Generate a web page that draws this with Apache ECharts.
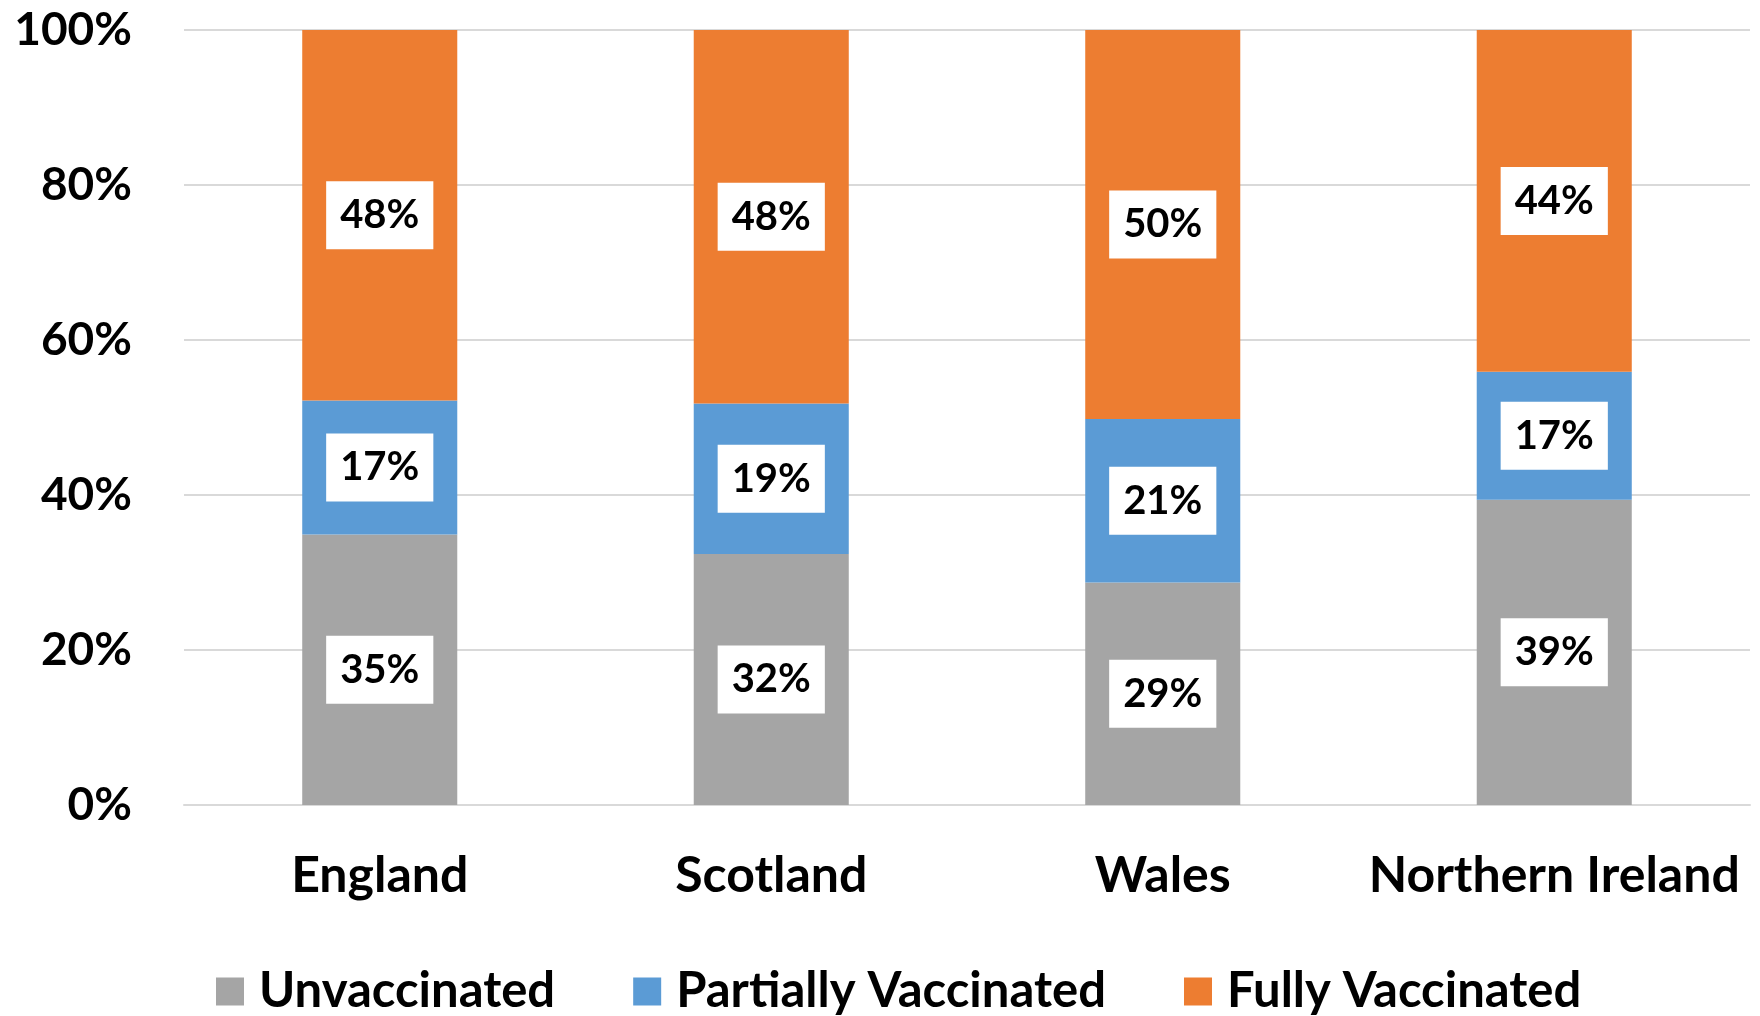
<!DOCTYPE html>
<html>
<head>
<meta charset="utf-8">
<script src="https://cdn.jsdelivr.net/npm/echarts@6/dist/echarts.min.js"></script>
<style>
  html, body { margin: 0; padding: 0; background: #fff; }
  #chart { width: 1760px; height: 1016px; }
</style>
</head>
<body>
<div id="chart"></div>
<script>
// data (percent of each nation)
var nations = ['England', 'Scotland', 'Wales', 'Northern Ireland'];
var unvaccinated = [34.9, 32.4, 28.7, 39.4];
var partiallyVaccinated = [17.3, 19.4, 21.1, 16.5];
var fullyVaccinated = [47.8, 48.2, 50.2, 44.1];
var yTicks = [0, 20, 40, 60, 80, 100];

var FONT = 'Lato';

var chart = echarts.init(document.getElementById('chart'), null, { renderer: 'canvas' });

// white boxed label in the middle of each segment
function segLabel() {
  return {
    show: true,
    position: 'inside',
    formatter: function (p) { return Math.round(p.value) + '%'; },
    color: '#000',
    fontFamily: FONT,
    fontWeight: 'bold',
    fontSize: 40,
    backgroundColor: '#fff',
    padding: [15, 14, 13, 14]
  };
}

function makeSeries(name, data, color) {
  return {
    name: name,
    type: 'bar',
    stack: 'total',
    barWidth: '39.6%',
    data: data,
    itemStyle: { color: color },
    label: segLabel(),
    emphasis: { disabled: true }
  };
}

var option = {
  animation: false,
  backgroundColor: '#fff',
  grid: {
    left: 184,
    right: 10,
    top: 30,
    bottom: 211,
    containLabel: false
  },
  legend: {
    left: 211,
    top: 962,
    icon: 'rect',
    itemWidth: 28,
    itemHeight: 28,
    itemGap: 78,
    textStyle: {
      fontFamily: FONT,
      fontWeight: 'bold',
      fontSize: 49,
      color: '#000',
      padding: [0, 0, 0, 10]
    },
    data: ['Unvaccinated', 'Partially Vaccinated', 'Fully Vaccinated']
  },
  xAxis: {
    type: 'category',
    data: nations,
    axisLine: { lineStyle: { color: '#d9d9d9', width: 2 } },
    axisTick: { show: false },
    axisLabel: {
      interval: 0,
      margin: 46,
      color: '#000',
      fontFamily: FONT,
      fontWeight: 'bold',
      fontSize: 50
    }
  },
  yAxis: {
    type: 'value',
    min: yTicks[0],
    max: yTicks[yTicks.length - 1],
    interval: 20,
    axisLine: { show: false },
    axisTick: { show: false },
    splitLine: { lineStyle: { color: '#d9d9d9', width: 2 } },
    axisLabel: {
      margin: 52,
      color: '#000',
      fontFamily: FONT,
      fontWeight: 'bold',
      fontSize: 46,
      formatter: '{value}%'
    }
  },
  series: [
    makeSeries('Unvaccinated', unvaccinated, '#A5A5A5'),
    makeSeries('Partially Vaccinated', partiallyVaccinated, '#5B9BD5'),
    makeSeries('Fully Vaccinated', fullyVaccinated, '#ED7D31')
  ]
};

chart.setOption(option);
</script>
</body>
</html>
